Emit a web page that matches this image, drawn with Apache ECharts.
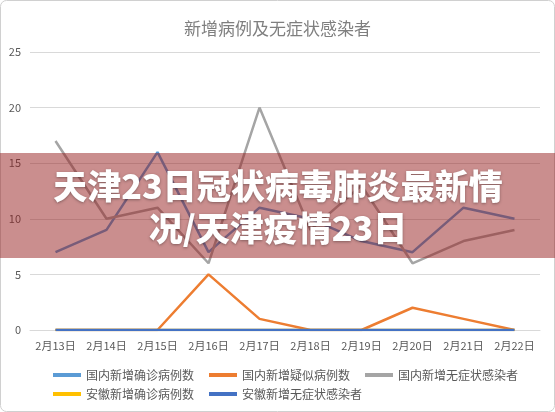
<!DOCTYPE html>
<html>
<head>
<meta charset="utf-8">
<script src="https://cdn.jsdelivr.net/npm/echarts@6/dist/echarts.min.js"></script>
<style>
  html, body { margin: 0; padding: 0; background: #fff; }
  #chart { width: 555px; height: 412px; }
</style>
</head>
<body>
<div id="chart"></div>
<script>
// 数据
const categories = ['2月13日', '2月14日', '2月15日', '2月16日', '2月17日', '2月18日', '2月19日', '2月20日', '2月21日', '2月22日']
const domesticConfirmed = [7, 9, 16, 7, 11, 10, 8, 7, 11, 10]
const domesticSuspected = [0, 0, 0, 5, 1, 0, 0, 2, 1, 0]
const domesticAsymptomatic = [17, 10, 11, 6, 20, 9, 13, 6, 8, 9]
const anhuiConfirmed = [0, 0, 0, 0, 0, 0, 0, 0, 0, 0]
const anhuiAsymptomatic = [0, 0, 0, 0, 0, 0, 0, 0, 0, 0]
const yTicks = [0, 25, 5]
const seriesNames = ['国内新增确诊病例数', '国内新增疑似病例数', '国内新增无症状感染者', '安徽新增确诊病例数', '安徽新增无症状感染者']

const font = '"Noto Sans CJK SC", "Microsoft YaHei", sans-serif'
const mkLine = function (name, data) {
  return {name: name, type: 'line', data: data, symbol: 'none', lineStyle: {width: 2.5}, silent: true}
}
const mkLegend = function (top, names) {
  return {
    left: 48,
    top: top,
    data: names,
    itemWidth: 28,
    itemHeight: 4,
    itemGap: 15,
    icon: 'rect',
    selectedMode: false,
    textStyle: {color: '#595959', fontSize: 12}
  }
}

let option = {
  animation: false,
  textStyle: {fontFamily: font},
  color: ['#5b9bd5', '#ed7d31', '#a5a5a5', '#ffc000', '#4472c4'],
  title: {
    text: '新增病例及无症状感染者',
    left: 'center',
    top: 15,
    textStyle: {fontWeight: 'normal', fontSize: 17, color: '#7f7f7f', fontFamily: font}
  },
  grid: {left: 30, right: 15, top: 52, bottom: 82},
  legend: [
    mkLegend(364, seriesNames.slice(0, 3)),
    mkLegend(383, seriesNames.slice(3))
  ],
  xAxis: {
    type: 'category',
    data: categories,
    axisTick: {show: false},
    axisLine: {lineStyle: {color: '#d9d9d9'}},
    axisLabel: {color: '#595959', fontSize: 11, margin: 10, interval: 0}
  },
  yAxis: {
    type: 'value',
    min: yTicks[0],
    max: yTicks[1],
    interval: yTicks[2],
    axisLabel: {color: '#595959', fontSize: 11, margin: 9},
    splitLine: {lineStyle: {color: '#d9d9d9'}}
  },
  series: [
    mkLine(seriesNames[0], domesticConfirmed),
    mkLine(seriesNames[1], domesticSuspected),
    mkLine(seriesNames[2], domesticAsymptomatic),
    mkLine(seriesNames[3], anhuiConfirmed),
    mkLine(seriesNames[4], anhuiAsymptomatic)
  ],
  graphic: [
    {
      type: 'rect',
      z: 100,
      shape: {x: 0.5, y: 0.5, width: 554, height: 411, r: 6},
      style: {fill: 'none', stroke: '#d0d0d0', lineWidth: 1}
    },
    {
      type: 'rect',
      z: 100,
      shape: {x: 0, y: 153, width: 555, height: 105},
      style: {fill: 'rgba(150, 30, 30, 0.5)'}
    },
    {
      type: 'text',
      z: 101,
      x: 278,
      y: 207,
      style: {
        text: '天津23日冠状病毒肺炎最新情\n况/天津疫情23日',
        fill: '#fff',
        font: '900 34px ' + font,
        lineHeight: 42,
        align: 'center',
        verticalAlign: 'middle',
        textShadowColor: 'rgba(0, 0, 0, 0.35)',
        textShadowBlur: 3,
        textShadowOffsetY: 1
      }
    }
  ]
}
echarts.init(document.getElementById('chart')).setOption(option)
</script>
</body>
</html>
